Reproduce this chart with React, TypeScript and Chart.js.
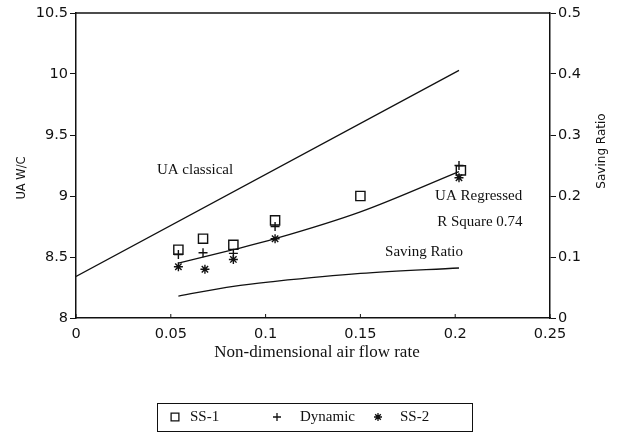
import React, { useEffect, useRef } from 'react';
import { Chart, registerables } from 'chart.js';
import { drawPoint } from 'chart.js/helpers';

Chart.register(...registerables);

// UA classical (straight line)
const classicalX = [0, 0.202];
const classicalUA = [8.34, 10.03];

// UA regressed (fitted curve)
const regressedX = [0.054, 0.083, 0.105, 0.15, 0.202];
const regressedUA = [8.45, 8.56, 8.65, 8.87, 9.2];

// Saving ratio (right axis)
const savingX = [0.054, 0.083, 0.105, 0.15, 0.202];
const savingRatio = [0.036, 0.052, 0.06, 0.073, 0.082];

// Measured points
const ss1X = [0.054, 0.067, 0.083, 0.105, 0.15, 0.203];
const ss1UA = [8.56, 8.65, 8.6, 8.8, 9.0, 9.21];

const dynamicX = [0.054, 0.067, 0.083, 0.105, 0.202];
const dynamicUA = [8.52, 8.535, 8.53, 8.75, 9.25];

const ss2X = [0.054, 0.068, 0.083, 0.105, 0.202];
const ss2UA = [8.42, 8.4, 8.48, 8.65, 9.15];

// Text annotations (data coordinates, left axis)
const annotationText = ['UA classical', 'UA Regressed', 'R Square 0.74', 'Saving Ratio'];
const annotationX = [0.0427, 0.1894, 0.1905, 0.163];
const annotationY = [9.21, 9.0, 8.787, 8.54];

const legendLabels = ['SS-1', 'Dynamic', 'SS-2'];

const pts = (xs: number[], ys: number[]) => xs.map((x, i) => ({ x, y: ys[i] }));
const fmt = (v: any) => String(Number(Number(v).toFixed(3)));

const SERIF = '"Liberation Serif", "Times New Roman", serif';
const SANS = '"DejaVu Sans", sans-serif';

export default function App() {
  const ref = useRef<HTMLCanvasElement>(null);

  useEffect(() => {
    document.body.style.margin = '0';
    const styles = [
      { pointStyle: 'rect', radius: 6.5 },
      { pointStyle: 'cross', radius: 4.5 },
      { pointStyle: 'star', radius: 4.5 },
    ];

    const overlay = {
      id: 'overlay',
      afterDraw(chart: any) {
        const { ctx, chartArea, scales } = chart;
        const x = scales.x;
        const y = scales.y;
        ctx.save();
        ctx.strokeStyle = '#111';
        ctx.lineWidth = 1.5;
        // top border
        ctx.beginPath();
        ctx.moveTo(chartArea.left, chartArea.top);
        ctx.lineTo(chartArea.right, chartArea.top);
        ctx.stroke();
        // inward x ticks
        ctx.lineWidth = 1;
        x.ticks.forEach((t: any) => {
          const px = x.getPixelForValue(t.value);
          ctx.beginPath();
          ctx.moveTo(px, chartArea.bottom);
          ctx.lineTo(px, chartArea.bottom - 4);
          ctx.stroke();
        });

        ctx.fillStyle = '#111';
        // annotations
        ctx.font = `15px ${SERIF}`;
        ctx.textAlign = 'left';
        ctx.textBaseline = 'middle';
        annotationText.forEach((txt, i) => {
          ctx.fillText(txt, x.getPixelForValue(annotationX[i]), y.getPixelForValue(annotationY[i]));
        });

        // axis titles
        ctx.font = `17px ${SERIF}`;
        ctx.textAlign = 'center';
        ctx.fillText('Non-dimensional air flow rate', (chartArea.left + chartArea.right) / 2 + 4, 353);

        ctx.font = `11.5px ${SANS}`;
        ctx.save();
        ctx.translate(22, 178);
        ctx.rotate(-Math.PI / 2);
        ctx.fillText('UA W/C', 0, 0);
        ctx.restore();

        ctx.font = `12px ${SANS}`;
        ctx.save();
        ctx.translate(602, 151);
        ctx.rotate(-Math.PI / 2);
        ctx.fillText('Saving Ratio', 0, 0);
        ctx.restore();

        // legend
        ctx.lineWidth = 1;
        ctx.strokeRect(157.5, 403.5, 315, 28);
        const markX = [175, 277, 378];
        const textX = [190, 300, 400];
        const ly = 417;
        ctx.font = `15px ${SERIF}`;
        ctx.textAlign = 'left';
        legendLabels.forEach((lbl, i) => {
          ctx.strokeStyle = '#111';
          ctx.fillStyle = 'rgba(0,0,0,0)';
          ctx.lineWidth = 1.3;
          drawPoint(ctx, { pointStyle: styles[i].pointStyle as any, radius: i === 0 ? 5.5 : 4, borderWidth: 1.3, rotation: 0 }, markX[i], ly);
          ctx.fillStyle = '#111';
          ctx.fillText(lbl, textX[i], ly);
        });
        ctx.restore();
      },
    };

    const lineDs = (label: string, data: any[], yAxisID = 'y', tension = 0) => ({
      type: 'line' as const,
      label,
      data,
      yAxisID,
      showLine: true,
      borderColor: '#111',
      borderWidth: 1.3,
      pointRadius: 0,
      tension,
      cubicInterpolationMode: 'monotone' as const,
      fill: false,
    });

    const scatterDs = (label: string, data: any[], i: number) => ({
      type: 'scatter' as const,
      label,
      data,
      yAxisID: 'y',
      pointStyle: styles[i].pointStyle,
      pointRadius: styles[i].radius,
      borderColor: '#111',
      backgroundColor: 'rgba(0,0,0,0)',
      borderWidth: 1.4,
    });

    const tickFont = { family: SANS, size: 14.5 };

    const chart = new Chart(ref.current!, {
      type: 'scatter',
      data: {
        datasets: [
          lineDs('UA classical', pts(classicalX, classicalUA)),
          lineDs('UA Regressed', pts(regressedX, regressedUA), 'y', 0.4),
          lineDs('Saving Ratio', pts(savingX, savingRatio), 'y1', 0.4),
          scatterDs('SS-1', pts(ss1X, ss1UA), 0),
          scatterDs('Dynamic', pts(dynamicX, dynamicUA), 1),
          scatterDs('SS-2', pts(ss2X, ss2UA), 2),
        ] as any,
      },
      options: {
        responsive: false,
        animation: false,
        layout: { padding: { top: 13, left: 0, right: 0, bottom: 0 } },
        plugins: { legend: { display: false }, tooltip: { enabled: false } },
        scales: {
          x: {
            type: 'linear',
            min: 0,
            max: 0.25,
            ticks: { stepSize: 0.05, color: '#111', font: tickFont, padding: 8, callback: fmt },
            grid: { display: true, drawOnChartArea: false, drawTicks: false },
            border: { display: true, color: '#111', width: 1.5 },
            afterFit: (s: any) => { s.height = 116; },
          },
          y: {
            type: 'linear',
            position: 'left',
            min: 8,
            max: 10.5,
            ticks: { stepSize: 0.5, color: '#111', font: tickFont, padding: 2, callback: fmt },
            grid: { drawOnChartArea: false, tickLength: 6, color: '#111' },
            border: { display: true, color: '#111', width: 1.5 },
            afterFit: (s: any) => { s.width = 76; },
          },
          y1: {
            type: 'linear',
            position: 'right',
            min: 0,
            max: 0.5,
            ticks: { stepSize: 0.1, color: '#111', font: tickFont, padding: 2, callback: fmt },
            grid: { drawOnChartArea: false, tickLength: 6, color: '#111' },
            border: { display: true, color: '#111', width: 1.5 },
            afterFit: (s: any) => { s.width = 67; },
          },
        },
      },
      plugins: [overlay],
    });
    return () => chart.destroy();
  }, []);

  return (
    <div style={{ width: 617, height: 434, background: '#fff' }}>
      <canvas ref={ref} width={617} height={434} style={{ display: 'block' }} />
    </div>
  );
}
